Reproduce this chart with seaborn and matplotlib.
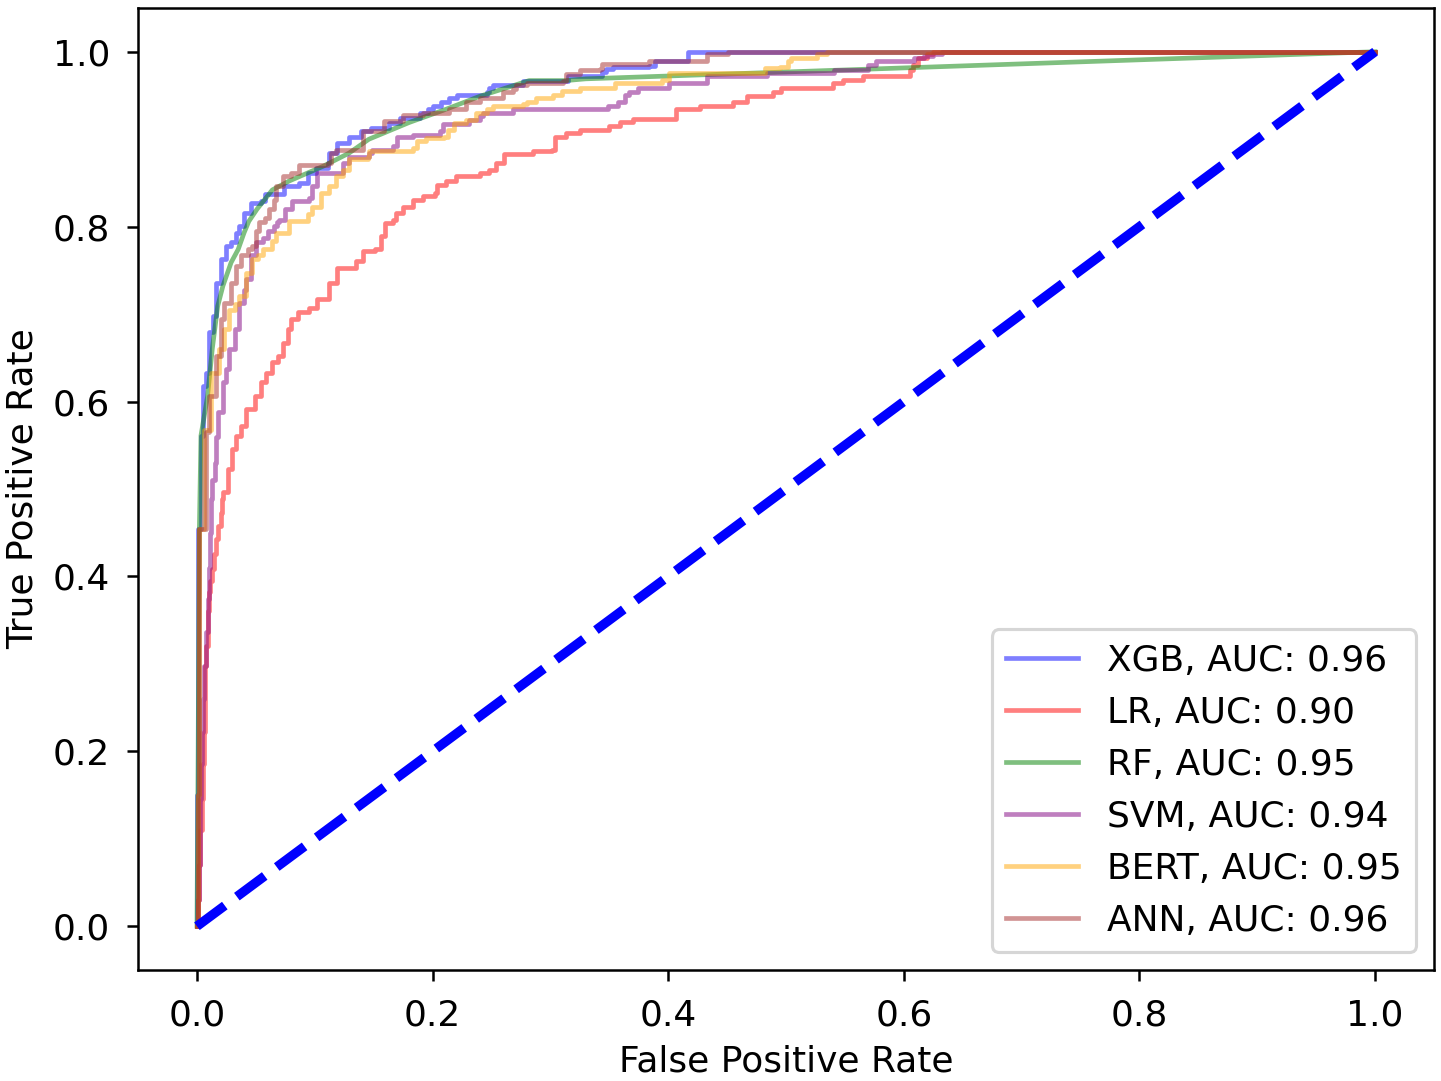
import matplotlib
matplotlib.use("Agg")
import matplotlib.pyplot as plt
import seaborn as sns

# ---------------- ROC points (fpr, tpr) ----------------
models = ["XGB", "LR", "RF", "SVM", "BERT", "ANN"]
auc_values = [0.96, 0.90, 0.95, 0.94, 0.95, 0.96]
colors = ["blue", "red", "green", "purple", "orange", "brown"]

xgb_fpr = [0, 0, 0.001, 0.0034, 0.0048, 0.0077, 0.0105, 0.0133, 0.016, 0.020,
           0.025, 0.029, 0.033, 0.036, 0.040, 0.046, 0.054, 0.058, 0.074, 0.087,
           0.094, 0.101, 0.111, 0.112, 0.119, 0.129, 0.139, 0.148, 0.163, 0.172,
           0.189, 0.196, 0.200, 0.207, 0.214, 0.221, 0.246, 0.248, 0.251, 0.277,
           0.315, 0.344, 0.347, 0.353, 0.384, 0.389, 0.417, 1.0]
xgb_tpr = [0, 0.15, 0.454, 0.561, 0.618, 0.633, 0.679, 0.698, 0.736, 0.763,
           0.778, 0.782, 0.793, 0.801, 0.816, 0.827, 0.829, 0.837, 0.846, 0.850,
           0.861, 0.867, 0.873, 0.884, 0.896, 0.903, 0.909, 0.913, 0.918, 0.924,
           0.930, 0.934, 0.938, 0.943, 0.947, 0.951, 0.954, 0.959, 0.962, 0.967,
           0.972, 0.977, 0.980, 0.982, 0.984, 0.989, 1.0, 1.0]

lr_fpr = [0, 0.001, 0.002, 0.003, 0.0045, 0.005, 0.006, 0.0065, 0.007, 0.008,
          0.009, 0.0095, 0.010, 0.0115, 0.013, 0.0145, 0.016, 0.018, 0.020, 0.0215,
          0.022, 0.026, 0.030, 0.033, 0.037, 0.042, 0.049, 0.054, 0.059,
          0.064, 0.069, 0.073, 0.077, 0.080, 0.086, 0.095, 0.102, 0.112, 0.119,
          0.135, 0.141, 0.151, 0.156, 0.160, 0.166, 0.169, 0.175, 0.183, 0.192,
          0.202, 0.204, 0.211, 0.220, 0.237, 0.240, 0.248, 0.254, 0.261, 0.285,
          0.301, 0.304, 0.313, 0.325, 0.350, 0.359, 0.370, 0.407, 0.427, 0.455,
          0.467, 0.489, 0.496, 0.540, 0.548, 0.565, 0.605, 0.608, 0.612, 0.620,
          0.625, 1.0]
lr_tpr = [0, 0.03, 0.07, 0.11, 0.146, 0.185, 0.222, 0.26, 0.298, 0.32,
          0.337, 0.36, 0.382, 0.395, 0.409, 0.426, 0.443, 0.458, 0.473, 0.489,
          0.496, 0.523, 0.546, 0.561, 0.572, 0.591, 0.606, 0.622, 0.633,
          0.645, 0.652, 0.667, 0.683, 0.694, 0.702, 0.707, 0.717, 0.736, 0.753,
          0.761, 0.772, 0.774, 0.789, 0.804, 0.808, 0.816, 0.823, 0.831, 0.835,
          0.839, 0.848, 0.852, 0.858, 0.858, 0.861, 0.865, 0.873, 0.883, 0.886,
          0.888, 0.903, 0.907, 0.911, 0.915, 0.920, 0.923, 0.934, 0.938, 0.943,
          0.949, 0.954, 0.958, 0.964, 0.968, 0.972, 0.979, 0.985, 0.993, 0.997,
          1.0, 1.0]

rf_fpr = [0, 0.001, 0.002, 0.0034, 0.009, 0.013, 0.0176, 0.022, 0.029, 0.035,
          0.040, 0.044, 0.051, 0.064, 0.078, 0.107, 0.129, 0.146, 0.155, 0.180,
          0.211, 0.240, 0.268, 0.282, 0.313, 0.330, 1.0]
rf_tpr = [0, 0.2, 0.45, 0.561, 0.606, 0.660, 0.709, 0.732, 0.759, 0.774,
          0.793, 0.806, 0.820, 0.842, 0.852, 0.869, 0.884, 0.900, 0.905, 0.919,
          0.934, 0.949, 0.961, 0.967, 0.967, 0.969, 1.0]

svm_fpr = [0, 0.001, 0.002, 0.0025, 0.003, 0.0035, 0.004, 0.005, 0.006, 0.0075,
           0.009, 0.010, 0.011, 0.0116, 0.013, 0.015, 0.0165, 0.018, 0.022,
           0.025, 0.027, 0.032, 0.036, 0.040, 0.042, 0.046, 0.050, 0.056, 0.060,
           0.065, 0.068, 0.070, 0.075, 0.081, 0.095, 0.098, 0.102, 0.115, 0.124,
           0.129, 0.146, 0.149, 0.166, 0.170, 0.183, 0.206, 0.209, 0.231, 0.240,
           0.243, 0.268, 0.346, 0.349, 0.357, 0.363, 0.367, 0.374, 0.401, 0.433,
           0.484, 0.541, 0.570, 0.576, 0.609, 0.617, 0.625, 0.632, 1.0]
svm_tpr = [0, 0.03, 0.07, 0.11, 0.146, 0.185, 0.222, 0.26, 0.298, 0.336,
           0.374, 0.41, 0.45, 0.489, 0.51, 0.530, 0.56, 0.588, 0.622,
           0.637, 0.660, 0.683, 0.713, 0.728, 0.740, 0.767, 0.782, 0.787, 0.795,
           0.801, 0.805, 0.808, 0.820, 0.829, 0.833, 0.846, 0.861, 0.861, 0.873,
           0.880, 0.884, 0.888, 0.892, 0.903, 0.905, 0.909, 0.917, 0.922, 0.926,
           0.930, 0.934, 0.934, 0.938, 0.942, 0.950, 0.954, 0.959, 0.964, 0.972,
           0.976, 0.979, 0.985, 0.989, 0.993, 0.995, 0.997, 1.0, 1.0]

bert_fpr = [0, 0.001, 0.002, 0.006, 0.012, 0.019, 0.023, 0.027, 0.032, 0.036,
            0.042, 0.047, 0.052, 0.056, 0.064, 0.067, 0.078, 0.094, 0.098, 0.105,
            0.112, 0.118, 0.124, 0.129, 0.145, 0.146, 0.183, 0.187, 0.194, 0.210,
            0.213, 0.218, 0.228, 0.237, 0.246, 0.251, 0.277, 0.280, 0.288, 0.302,
            0.310, 0.325, 0.355, 0.395, 0.401, 0.482, 0.495, 0.502, 0.504, 0.526,
            0.535, 1.0]
bert_tpr = [0, 0.15, 0.454, 0.568, 0.633, 0.660, 0.683, 0.705, 0.711, 0.721,
            0.747, 0.763, 0.767, 0.774, 0.783, 0.793, 0.806, 0.814, 0.823, 0.839,
            0.846, 0.858, 0.865, 0.877, 0.880, 0.886, 0.890, 0.898, 0.901, 0.903,
            0.911, 0.918, 0.922, 0.930, 0.934, 0.938, 0.940, 0.943, 0.947, 0.951,
            0.955, 0.959, 0.964, 0.968, 0.976, 0.981, 0.983, 0.989, 0.993, 0.997,
            1.0, 1.0]

ann_fpr = [0, 0.001, 0.002, 0.0074, 0.0105, 0.016, 0.020, 0.023, 0.029, 0.033,
           0.037, 0.043, 0.047, 0.050, 0.053, 0.058, 0.061, 0.065, 0.067, 0.073,
           0.080, 0.087, 0.111, 0.114, 0.118, 0.141, 0.141, 0.159, 0.175, 0.192,
           0.214, 0.228, 0.240, 0.257, 0.260, 0.268, 0.271, 0.280, 0.311, 0.313,
           0.325, 0.342, 0.344, 0.384, 0.433, 0.451, 1.0]
ann_tpr = [0, 0.15, 0.454, 0.565, 0.606, 0.652, 0.694, 0.713, 0.736, 0.755,
           0.767, 0.774, 0.778, 0.795, 0.805, 0.810, 0.820, 0.831, 0.846, 0.858,
           0.861, 0.871, 0.873, 0.884, 0.888, 0.900, 0.909, 0.921, 0.928, 0.930,
           0.934, 0.943, 0.947, 0.947, 0.954, 0.957, 0.962, 0.964, 0.967, 0.975,
           0.979, 0.980, 0.986, 0.989, 0.997, 1.0, 1.0]

curves = [(xgb_fpr, xgb_tpr), (lr_fpr, lr_tpr), (rf_fpr, rf_tpr),
          (svm_fpr, svm_tpr), (bert_fpr, bert_tpr), (ann_fpr, ann_tpr)]

#---------------------Plot------------------------
plt.rcParams["font.size"] = 11.5
plt.rcParams["xtick.major.pad"] = 5.5
plt.rcParams["ytick.major.pad"] = 5.5
fig, ax = plt.subplots(figsize=(1441 / 225, 1081 / 225), dpi=225)
fig.subplots_adjust(left=0.0958, right=0.9951, bottom=0.1027, top=0.9926)

for name, auc, col, (fpr, tpr) in zip(models, auc_values, colors, curves):
    # RF curve is smooth, the others are step curves
    style = "default" if name == "RF" else "steps-post"
    sns.lineplot(x=fpr, y=tpr, color=col, alpha=0.5, linewidth=1.5,
                 estimator=None, sort=False, drawstyle=style,
                 label=f"{name}, AUC: {auc:.2f}", ax=ax)

# chance line
sns.lineplot(x=[0, 1], y=[0, 1], color="blue", linestyle="--", linewidth=3,
             estimator=None, sort=False, ax=ax)

ax.set_xlabel("False Positive Rate")
ax.set_ylabel("True Positive Rate")
ax.legend(loc="lower right", fontsize=11.5)

fig.savefig("out.png", dpi=225)
